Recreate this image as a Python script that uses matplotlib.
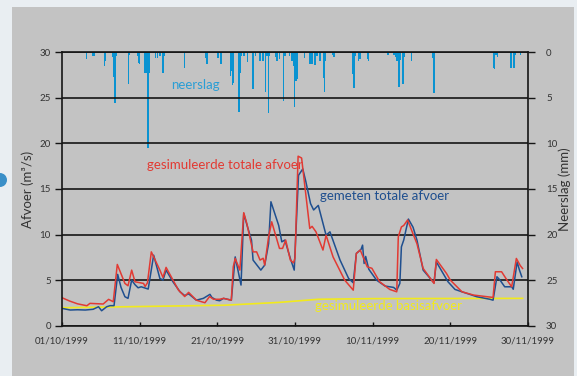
import matplotlib
matplotlib.use("Agg")
import matplotlib.pyplot as plt
import matplotlib.dates as mdates
from matplotlib.patches import Rectangle, Ellipse
import numpy as np
import pandas as pd

# ---------------- data (days after 01/10/1999) ----------------
start = pd.Timestamp("1999-10-01")

meas_days = [0, 1.07, 2, 3, 4.0, 4.7, 5.1, 5.75, 6.2, 6.7, 7.17, 7.6, 8.1, 8.5, 8.97, 9.4, 9.8,
             10.2, 11.1, 11.8, 12.6, 13.0, 13.4, 14.3, 15.2, 15.8, 16.3, 17.3, 18.2, 19.05, 19.3,
             19.9, 20.3, 20.8, 21.8, 22.3, 23.05, 23.4, 23.9, 24.4, 24.6, 25.6, 26.1, 26.6, 26.9,
             27.9, 28.3, 28.7, 29.4, 29.9, 30.45, 31.0, 31.4, 32.0, 32.4, 33.0, 34.0, 34.5, 35.8,
             36.9, 37.5, 37.9, 38.5, 38.7, 38.9, 39.1, 39.5, 40.5, 41.6, 42.7, 43.1, 43.5, 43.7,
             44.0, 44.6, 45.2, 45.7, 46.5, 47.9, 48.2, 49.7, 50.6, 51.5, 52.5, 53.4, 55.1, 55.5,
             56.0, 56.4, 57.0, 57.9, 58.1, 58.6, 58.9, 59.2]
meas_vals = [1.9, 1.72, 1.75, 1.72, 1.8, 2.08, 1.64, 2.08, 2.2, 2.2, 5.63, 4.2, 3.18, 3.0, 5.0, 4.5,
             4.16, 4.27, 4.02, 7.74, 5.19, 5.0, 6.1, 4.8, 3.72, 3.3, 3.5, 2.8, 3.0, 3.44, 3.1,
             2.8, 2.74, 3.0, 2.8, 7.55, 4.46, 12.3, 10.8, 9.38, 7.2, 6.1, 6.65, 9.0, 13.6,
             11.0, 9.2, 9.4, 7.38, 6.1, 16.5, 17.2, 15.8, 13.4, 12.7, 13.2, 9.93, 10.3, 7.2,
             5.19, 4.71, 7.93, 8.37, 8.84, 6.83, 7.6, 6.2, 5.0, 4.35, 4.2, 3.9, 4.64, 8.65,
             9.4, 11.7, 10.8, 9.4, 6.1, 4.7, 7.0, 4.82, 3.98, 3.72, 3.44, 3.18, 2.9, 2.8,
             5.37, 5.0, 4.27, 4.27, 4.0, 7.0, 6.1, 5.37]

sim_days = [0, 1, 2, 3.2, 3.6, 5.3, 6.0, 6.6, 7.12, 8.1, 8.5, 8.97, 9.4, 10.5, 10.7, 11.0, 11.5,
            12.6, 13.0, 13.4, 15.0, 15.8, 16.3, 17.3, 18.4, 19.0, 19.5, 20.3, 20.8, 21.8, 22.05,
            22.3, 22.9, 23.4, 23.8, 24.6, 25.06, 25.5, 25.9, 26.1, 26.6, 27.0, 28.0, 28.4, 28.8,
            29.4, 29.8, 30.0, 30.4, 30.85, 31.9, 32.2, 32.7, 33.6, 34.0, 34.9, 36.4, 37.5, 37.9,
            38.4, 39.3, 39.9, 40.9, 42.2, 43.1, 43.3, 43.7, 44.0, 44.5, 45.0, 45.7, 46.5, 47.9,
            48.2, 49.5, 50.0, 51.5, 53.0, 55.5, 55.8, 56.6, 57.3, 57.9, 58.5, 59.0, 59.3]
sim_vals = [3.07, 2.7, 2.4, 2.19, 2.45, 2.38, 2.89, 2.63, 6.72, 4.64, 4.38, 6.1, 4.82, 4.64, 4.3,
            4.7, 8.1, 6.1, 5.3, 6.4, 3.9, 3.2, 3.66, 2.8, 2.52, 3.2, 2.9, 2.9, 3.0, 2.8, 6.46,
            7.38, 6.1, 12.4, 11.2, 8.1, 8.1, 7.2, 7.4, 6.65, 9.75, 11.4, 8.48, 8.48, 9.4,
            7.2, 6.9, 7.4, 18.6, 18.4, 10.67, 10.9, 10.3, 8.3, 9.93, 7.55, 5.0, 3.9, 7.93,
            8.3, 6.46, 6.3, 4.82, 3.98, 3.72, 9.75, 10.84, 11.0, 11.6, 10.5, 9.0, 6.28, 4.64,
            7.27, 5.74, 5.0, 3.72, 3.36, 3.1, 5.92, 5.92, 5.0, 4.27, 7.38, 6.6, 6.28]

base_days = [0, 21, 28, 33, 40, 59.3]
base_vals = [1.97, 2.25, 2.56, 2.9, 2.97, 3.0]

rain_days = [3.18, 3.9, 4.0, 4.1, 5.45, 5.6, 6.52, 6.7, 6.82, 6.95, 8.54, 8.65, 9.74, 9.9, 10.0,
             10.65, 10.8, 11.0, 11.1, 11.25, 12.06, 12.3, 12.6, 13.0, 13.17, 15.8, 18.5, 18.7,
             20.1, 20.5, 21.67, 21.84, 21.97, 22.1, 22.8, 22.9, 23.1, 23.4, 23.9, 24.6, 24.9,
             25.5, 25.9, 26.2, 26.4, 26.6, 26.7, 27.5, 27.7, 28.0, 28.5, 28.7, 29.3, 29.6, 29.8,
             29.96, 30.1, 30.3, 31.2, 31.9, 32.2, 32.6, 32.8, 32.9, 33.2, 33.65, 33.77, 33.9,
             34.85, 35.0, 37.5, 37.6, 37.7, 38.15, 38.3, 38.4, 39.35, 39.45, 42.0, 42.75, 42.95,
             43.15, 43.3, 43.4, 43.6, 43.9, 44.1, 45.0, 47.8, 47.9, 55.55, 55.7, 55.9, 56.1,
             57.8, 58.2, 58.3, 59.05]
rain_mm = [0.77, 0.4, 0.4, 0.4, 1.47, 1.0, 0.5, 2.68, 5.53, 0.4, 3.5, 0.3, 0.4, 1.2, 1.3,
           2.3, 2.3, 0.4, 10.5, 2.3, 0.6, 0.6, 0.4, 2.3, 0.4, 1.76, 0.6, 1.3,
           0.6, 1.3, 2.6, 2.0, 3.6, 3.4, 6.5, 2.3, 0.4, 0.4, 1.1, 4.0, 0.4,
           0.9, 1.0, 4.4, 0.4, 6.7, 0.4, 0.5, 1.0, 0.7, 5.3, 0.4, 0.4, 1.0, 1.5,
           6.0, 3.2, 2.9, 0.66, 1.3, 1.3, 1.4, 0.4, 0.4, 1.0, 2.86, 4.4, 1.0,
           0.3, 0.5, 2.4, 3.9, 0.4, 0.9, 0.66, 0.7, 0.7, 0.9, 0.3, 0.3, 0.55,
           0.9, 2.5, 3.8, 0.8, 3.5, 0.5, 1.0, 0.6, 4.5, 1.7, 1.8, 0.3, 0.5,
           1.7, 1.7, 0.3, 0.3]

xtick_days = [0, 10, 20, 30, 40, 50, 60]


def to_dates(days):
    return start + pd.to_timedelta(np.asarray(days, dtype=float), unit="D")


# ---------------- figure ----------------
W, H = 577, 376
fig = plt.figure(figsize=(W / 100, H / 100), dpi=100)
fig.patch.set_facecolor("#e9eef2")
fig.patches.append(Rectangle((12 / W, 0), (574 - 12) / W, (H - 7) / H,
                             transform=fig.transFigure, facecolor="#c3c3c3",
                             edgecolor="none", zorder=-10))
fig.patches.append(Ellipse((0, 1 - 180 / H), 14 / W, 14 / H, transform=fig.transFigure,
                           facecolor="#3a8fc8", edgecolor="none", zorder=-5))

font = ["Lato", "DejaVu Sans"]
plt.rcParams["font.family"] = font

ax = fig.add_axes([62 / W, 1 - 325.7 / H, (528 - 62) / W, (325.7 - 52.3) / H])
ax.set_facecolor("none")
ax2 = ax.twinx()
ax.set_zorder(ax2.get_zorder() + 1)
ax.patch.set_visible(False)

# rain bars, hanging from top
ax2.bar(to_dates(rain_days), rain_mm, width=0.2, color="#0a93d1", edgecolor="none",
        align="center")
ax2.set_ylim(30, 0)
ax2.set_yticks([0, 5, 10, 15, 20, 25, 30])

# discharge lines
ax.plot(to_dates(base_days), base_vals, color="#f2ea1c", lw=1.2)
ax.plot(to_dates(meas_days), meas_vals, color="#1f4f8f", lw=1.1)
ax.plot(to_dates(sim_days), sim_vals, color="#e23a33", lw=1.1)

ax.set_ylim(0, 30)
ax.set_yticks([0, 5, 10, 15, 20, 25, 30])
ax.set_xlim(to_dates([0])[0], to_dates([60])[0])
ax.set_xticks(to_dates(xtick_days))
ax.xaxis.set_major_formatter(mdates.DateFormatter("%d/%m/%Y"))
ax.grid(axis="y", color="#151515", lw=1.2)
ax.grid(axis="x", visible=False)

for a in (ax, ax2):
    for s in a.spines.values():
        s.set_color("#151515")
        s.set_linewidth(1.2)
ax.spines["right"].set_visible(False)
ax2.spines["left"].set_visible(False)
ax2.spines["top"].set_visible(False)
ax2.spines["bottom"].set_visible(False)

ax.tick_params(axis="y", direction="out", length=5, width=1, colors="#151515",
               labelcolor="#333333", labelsize=7, pad=3)
ax.tick_params(axis="x", direction="in", length=3, width=1, colors="#151515",
               labelcolor="#333333", labelsize=7, pad=8)
ax2.tick_params(axis="y", direction="out", length=5, width=1, colors="#151515",
                labelcolor="#333333", labelsize=7, pad=8)

ax.set_ylabel("Afvoer (m³/s)", fontsize=9.5, color="#333333", labelpad=4)
ax2.set_ylabel("Neerslag (mm)", fontsize=9.5, color="#333333", labelpad=1)

# annotations
ax.text(to_dates([14])[0], 26.4, "neerslag", color="#2a9ed5", fontsize=9.5, va="center")
ax.text(to_dates([11])[0], 17.6, "gesimuleerde totale afvoer", color="#e23a33", fontsize=9.5,
        va="center")
ax.text(to_dates([33.2])[0], 14.2, "gemeten totale afvoer", color="#1f4f8f", fontsize=9.5,
        va="center")
ax.text(to_dates([32.6])[0], 2.2, "gesimuleerde basisafvoer", color="#f2ea1c", fontsize=9.5,
        va="center")

fig.savefig("out.png", dpi=100, facecolor=fig.get_facecolor())
